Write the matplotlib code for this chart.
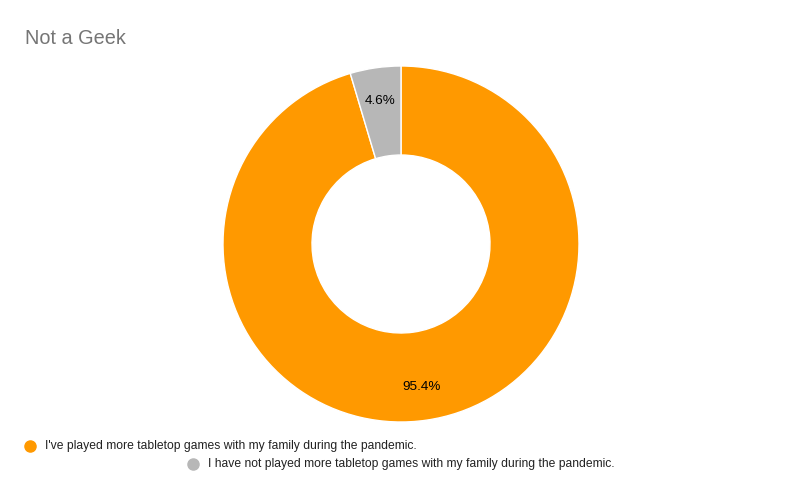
import matplotlib.pyplot as plt
from matplotlib.lines import Line2D

plt.rcParams['font.family'] = ['Liberation Sans', 'DejaVu Sans']

# data
labels = ["I've played more tabletop games with my family during the pandemic.",
          "I have not played more tabletop games with my family during the pandemic."]
shares = [95.4, 4.6]
colors = ['#ff9900', '#b7b7b7']
title = 'Not a Geek'

W, H = 803, 496
fig = plt.figure(figsize=(W / 100, H / 100), dpi=100)

# donut axes, square in pixels
cx, cy, r = 401, 244, 178
ax = fig.add_axes([(cx - r) / W, (H - cy - r) / H, 2 * r / W, 2 * r / H])
wedges, texts, autotexts = ax.pie(shares, colors=colors, startangle=90, counterclock=False,
                                  autopct='%.1f%%', pctdistance=0.81,
                                  wedgeprops=dict(width=0.5, edgecolor='white', linewidth=1),
                                  textprops=dict(fontsize=9.7, color='black'))
ax.set_xlim(-1, 1)
ax.set_ylim(-1, 1)
ax.axis('off')

fig.text(25 / W, 1 - 38 / H, title, fontsize=14.3, color='#757575', va='center', ha='left')

# legend, written by hand to keep the wrapped layout
legend_pos = [(30, 446), (193, 464)]
for (x, y), lab, col in zip(legend_pos, labels, colors):
    fig.add_artist(Line2D([x / W], [1 - y / H], marker='o', markersize=8, color=col,
                          linestyle='none', transform=fig.transFigure))
    fig.text((x + 15) / W, 1 - y / H, lab, fontsize=8.75, color='#222222', va='center', ha='left')

fig.savefig('out.png', dpi=100)
